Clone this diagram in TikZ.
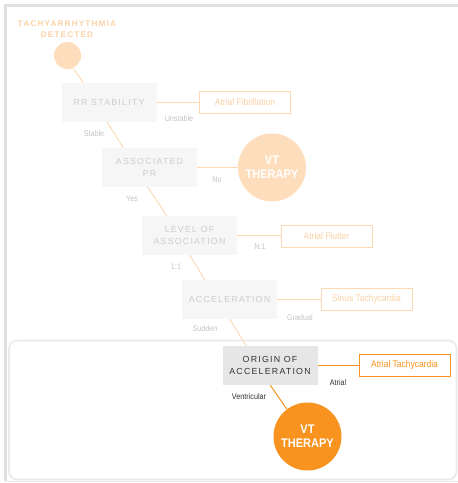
\documentclass[tikz,border=0pt]{standalone}
\usepackage{fontspec}
\setmainfont{Liberation Sans}
\newfontfamily\spaced[LetterSpace=14]{Liberation Sans}
\newfontfamily\narrow[FakeStretch=0.88]{Liberation Sans}
\usetikzlibrary{calc}
\definecolor{peach}{HTML}{FDDDBB}
\definecolor{peachline}{HTML}{FCD9B3}
\definecolor{peachtext}{HTML}{FBD2A6}
\definecolor{fadefill}{HTML}{F6F6F6}
\definecolor{fadetext}{HTML}{CDCDCD}
\definecolor{fadelabel}{HTML}{C4C4C4}
\definecolor{orange}{HTML}{F7931E}
\definecolor{activefill}{HTML}{E6E6E6}
\definecolor{activetext}{HTML}{333333}
\definecolor{frame}{HTML}{E0E0E0}
\definecolor{panel}{HTML}{EAEAEA}
\tikzset{
  qbox/.style={rectangle, minimum width=95pt, minimum height=39pt, inner sep=0pt, align=center, font=\spaced\fontsize{8.8}{11.5}\selectfont},
  fadebox/.style={qbox, fill=fadefill, text=fadetext},
  activebox/.style={qbox, fill=activefill, text=activetext},
  outbox/.style={rectangle, minimum width=91pt, minimum height=22pt, inner sep=0pt, fill=white, font=\narrow\fontsize{9.6}{11}\selectfont},
  fadeout/.style={outbox, draw=peachline, text=peachtext, line width=0.9pt},
  activeout/.style={outbox, draw=orange, text=orange, line width=0.9pt},
  vtcirc/.style={circle, minimum size=68pt, inner sep=0pt, align=center, text=white, font=\narrow\bfseries\fontsize{12.5}{14}\selectfont},
  fadecon/.style={draw=peachline, line width=0.9pt},
  activecon/.style={draw=orange, line width=1pt},
  lbl/.style={inner sep=0pt, font=\narrow\fontsize{8.2}{9}\selectfont},
  fadelbl/.style={lbl, text=fadelabel},
  activelbl/.style={lbl, text=activetext}
}
\begin{document}
\begin{tikzpicture}[x=1pt,y=-1pt]
\useasboundingbox (0,0) rectangle (458,483);
\fill[white] (0,0) rectangle (458,483);
% outer frame
\draw[frame, line width=3pt] (5.5,481) -- (5.5,5.5) -- (470,5.5);
\draw[frame!70, line width=1pt] (5.5,481.5) -- (470,481.5);
% highlighted panel
\draw[panel, line width=1.6pt, fill=white, rounded corners=8pt] (9,340.5) rectangle (456.5,479.5);

% nodes
\node[circle, fill=peach, minimum size=27pt, inner sep=0pt] (start) at (67.5,55.5) {};
\node[align=center, text=peachtext, font=\spaced\bfseries\fontsize{8.2}{11.2}\selectfont] (title) at (67,29.5) {TACHYARRHYTHMIA\\DETECTED};

\node[fadebox] (rr) at (109,102.5) {RR STABILITY};
\node[fadebox] (assoc) at (149.5,167.5) {ASSOCIATED\\PR};
\node[fadebox] (level) at (189.5,235.5) {LEVEL OF\\ASSOCIATION};
\node[fadebox] (accel) at (229.5,299.5) {ACCELERATION};
\node[activebox] (origin) at (270,365.5) {ORIGIN OF\\ACCELERATION};

\node[fadeout] (afib) at (245,102.5) {Atrial Fibrillation};
\node[fadeout] (aflut) at (326.5,236) {Atrial Flutter};
\node[fadeout] (sinus) at (366.5,299.5) {Sinus Tachycardia};
\node[activeout] (atach) at (404.5,365.5) {Atrial Tachycardia};

\node[vtcirc, fill=peach] (vt1) at (272,167.5) {VT\\THERAPY};
\node[vtcirc, fill=orange] (vt2) at (307.5,436.5) {VT\\THERAPY};

% connectors
\draw[fadecon] (start.-66) -- ($(rr.north west)+(22,0)$);
\draw[fadecon] ($(rr.south west)+(46,0)$) -- ($(assoc.north west)+(21.5,0)$);
\draw[fadecon] ($(assoc.south west)+(46,0)$) -- ($(level.north west)+(25,0)$);
\draw[fadecon] ($(level.south west)+(48,0)$) -- ($(accel.north west)+(23,0)$);
\draw[fadecon] ($(accel.south west)+(48,0)$) -- ($(origin.north west)+(24,0)$);
\draw[activecon] ($(origin.south west)+(48,0)$) -- (vt2.127);

\draw[fadecon] (rr.east) -- (afib.west);
\draw[fadecon] (assoc.east) -- (vt1.west);
\draw[fadecon] (level.east) -- (level.east -| aflut.west);
\draw[fadecon] (accel.east) -- (accel.east -| sinus.west);
\draw[activecon] (origin.east) -- (atach.west);

% labels
\node[fadelbl] (lUnstable) at (179,119) {Unstable};
\node[fadelbl] (lStable) at (94,134) {Stable};
\node[fadelbl] (lNo) at (217,180) {No};
\node[fadelbl] (lYes) at (132,199) {Yes};
\node[fadelbl] (lN1) at (260,247) {N:1};
\node[fadelbl] (l11) at (176,267) {1:1};
\node[fadelbl] (lGradual) at (300,318) {Gradual};
\node[fadelbl] (lSudden) at (205,329) {Sudden};
\node[activelbl] (lAtrial) at (338,383) {Atrial};
\node[activelbl] (lVent) at (249,397) {Ventricular};
\end{tikzpicture}
\end{document}
